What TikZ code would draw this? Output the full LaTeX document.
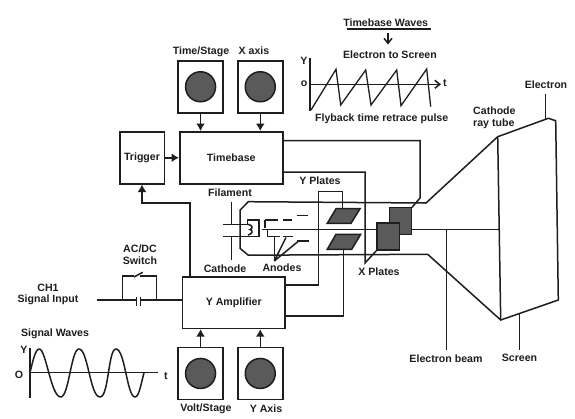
\documentclass[tikz,border=0pt]{standalone}
\usepackage{fontspec}
\setmainfont{Liberation Sans}
\usetikzlibrary{arrows.meta}
\definecolor{ink}{HTML}{1E1E1E}
\definecolor{plate}{HTML}{5A5A5A}
\tikzset{
  ln/.style={draw=ink,line width=1.5pt,line join=miter},
  hv/.style={draw=ink,line width=2.2pt},
  blk/.style={draw=ink,line width=1.5pt,fill=white,inner sep=0pt,font=\bfseries},
  knobbox/.style={draw=ink,line width=1.5pt,fill=white,inner sep=0pt},
  knob/.style={draw=ink,line width=1.5pt,fill=plate,circle,inner sep=0pt,minimum size=30pt},
  pl/.style={draw=ink,line width=1.5pt,fill=plate,line join=miter},
  lab/.style={font=\bfseries\fontsize{10.6}{11.5}\selectfont,text=ink,inner sep=0pt,align=center},
  tip/.style={-{Latex[length=7.5pt,width=9pt]}},
}
\begin{document}
\begin{tikzpicture}[x=1pt,y=-1pt]
\useasboundingbox (0,0) rectangle (575,418);
\fill[white] (0,0) rectangle (575,418);
% blocks
\node[blk,anchor=north west,minimum width=103pt,minimum height=52pt,lab] (tb) at (179,131) {Timebase};
\node[blk,anchor=north west,minimum width=44.5pt,minimum height=52pt,lab] (trg) at (119,131) {Trigger};
\node[blk,anchor=north west,minimum width=102.6pt,minimum height=51.7pt,lab] (ya) at (181.7,276) {Y Amplifier};
% knob boxes
\node[knobbox,anchor=north west,minimum width=45pt,minimum height=52pt] (b1) at (177.3,60) {};
\node[knobbox,anchor=north west,minimum width=45pt,minimum height=52pt] (b2) at (237,60) {};
\node[knobbox,anchor=north west,minimum width=45pt,minimum height=52pt] (b3) at (177.3,346.7) {};
\node[knobbox,anchor=north west,minimum width=45pt,minimum height=52pt] (b4) at (237,346.7) {};
\node[knob] at (b1.center) {};
\node[knob] at (b2.center) {};
\node[knob] at (b3.center) {};
\node[knob] at (b4.center) {};
\draw[ln,tip] (b1.south) -- (b1.south |- tb.north);
\draw[ln,tip] (b2.south) -- (b2.south |- tb.north);
\draw[ln,tip] (b3.north) -- (b3.north |- ya.south);
\draw[ln,tip] (b4.north) -- (b4.north |- ya.south);
\draw[ln,tip] (trg.east) -- (trg.east -| tb.west);
\coordinate (tr1) at (190,276);
\coordinate (tr2) at (190,203);
\coordinate (tr3) at (142,203);
\draw[hv,tip] (tr1) -- (tr2) -- (tr3) -- (trg.south);
% CRT outline
\draw[ln] (426,203) -- (248.3,201.7) -- (240.2,210) -- (240.2,248.5) -- (248.3,255.2) -- (427.7,254.3) -- (500.7,320) -- (558.3,300) -- (555.7,120.7) -- (548.3,118.3) -- (497.7,136.7) -- cycle;
\draw[ln] (497.7,136.7) -- (500.7,320);
\draw[ln] (261.7,229.3) -- (498.5,229.3);
% label leaders
\draw[ln] (446.3,229.3) -- (446.3,350);
\draw[ln] (519.3,313.5) -- (519.3,350);
\draw[ln] (545.7,94) -- (545.7,118.8);
% connections
\draw[ln] (282,140.5) -- (420,140.5) -- (420,198) -- (411.7,207.7);
\draw[ln] (282,172) -- (365,172) -- (365,263) -- (377,250);
\draw[ln] (284.3,285) -- (318.3,285) -- (318.3,191.7) -- (342.3,191.7) -- (342.3,208.7);
\draw[ln] (284.3,316) -- (343.3,316) -- (343.3,249.3);
% Y plates
\draw[pl] (327.3,223.3) -- (336,208.7) -- (360,208.7) -- (351,223.3) -- cycle;
\draw[pl] (327.3,249.3) -- (336,234.3) -- (360.7,234.3) -- (351.7,249.3) -- cycle;
% X plates
\draw[pl] (389.3,207.7) rectangle (411.7,234.3);
\draw[pl] (377,223) rectangle (399.7,250);
% gun
\draw[ln] (231.7,201.7) -- (231.7,224.3);
\draw[ln] (231.7,236.7) -- (231.7,260);
\draw[ln] (223.3,224.3) -- (248,224.3);
\draw[ln] (223.3,236.7) -- (259,236.7) -- (259,220) -- (247.3,220) -- (247.3,224.3);
\draw[ln] (248,224.3) .. controls (253,225) and (253,229) .. (250,229.5) .. controls (253,230) and (253,234) .. (248,235);
\draw[ln] (265,220) -- (278.3,220) (283.3,220) -- (292.3,220);
\draw[ln] (296.7,215.5) -- (308.3,215.5);
\draw[ln] (265,220) -- (265,228);
\draw[ln] (267.7,229.3) -- (267.7,236.7) -- (280,236.7);
\draw[ln] (283.3,236.7) -- (293.3,236.7);
\draw[ln] (296.7,241.2) -- (309.3,241.2);
\coordinate (an) at (274.3,261);
\draw[ln] (an) -- (274.3,236.7);
\draw[ln] (an) -- (286,237.5);
\draw[ln] (an) -- (298,241.5);
% AC/DC switch
\draw[ln] (96.7,300) -- (136.7,300);
\draw[ln] (140.7,300) -- (ya.west |- 0,300);
\draw[ln] (136.7,296.5) -- (136.7,305.7);
\draw[ln] (140.7,296.5) -- (140.7,305.7);
\draw[ln] (122.3,300) -- (122.3,276) -- (134,276);
\draw[ln] (134,277) -- (142.7,272.3);
\draw[ln] (140,276) -- (156.7,276) -- (156.7,300);
% signal wave
\draw[ln] (30,348) -- (30,398);
\draw[ln] (30,372.7) -- (158,372.7);
\draw[ln,line join=round] (30,372.7) .. controls (33,360) and (35.5,349) .. (39.3,349)
 .. controls (46,349) and (51,397) .. (60.7,397)
 .. controls (69,397) and (71,349) .. (79,349)
 .. controls (88,349) and (90,397) .. (100,397)
 .. controls (109,397) and (108,349) .. (116,349)
 .. controls (125,349) and (127,397) .. (135,397)
 .. controls (139,397) and (141,384) .. (144,372.7);
% sawtooth
\draw[ln] (310,58) -- (310,111);
\draw[ln,-{Straight Barb[length=5pt,width=8pt]}] (310,84.3) -- (441,84.3);
\draw[ln,line width=1.3pt] (311,110) -- (336,69.3) -- (340.7,105) -- (365.7,70) -- (371,105) -- (396.7,70) -- (401,105.7) -- (426.7,69) -- (430.7,106.7);
\draw[ln] (346.7,29) -- (430.7,29);
\draw[ln,-{Straight Barb[length=5pt,width=8pt]}] (388,33) -- (388,44.5);
% text
\node[lab] at (385.7,23) {Timebase Waves};
\node[lab] at (390,54.5) {Electron to Screen};
\node[lab] at (381.7,119) {Flyback time retrace pulse};
\node[lab] at (304,61) {Y};
\node[lab] at (304,84) {o};
\node[lab] at (445,83) {t};
\node[lab] at (546,85) {Electron};
\node[lab,anchor=north west,align=left] at (473,107) {Cathode\\ray tube};
\node[lab] at (201,52) {Time/Stage};
\node[lab] at (254,51) {X axis};
\node[lab] at (230,193) {Filament};
\node[lab] at (320,181) {Y Plates};
\node[lab] at (225,269) {Cathode};
\node[lab] at (282,268) {Anodes};
\node[lab] at (379,272) {X Plates};
\node[lab] at (446,359) {Electron beam};
\node[lab] at (519.5,358) {Screen};
\node[lab] at (140,254.5) {AC/DC\\Switch};
\node[lab] at (48,294.5) {CH1\\Signal Input};
\node[lab] at (55,334) {Signal Waves};
\node[lab] at (24,350) {Y};
\node[lab] at (19,375) {O};
\node[lab] at (166,376) {t};
\node[lab] at (206,409) {Volt/Stage};
\node[lab] at (266,409) {Y Axis};
\end{tikzpicture}
\end{document}
